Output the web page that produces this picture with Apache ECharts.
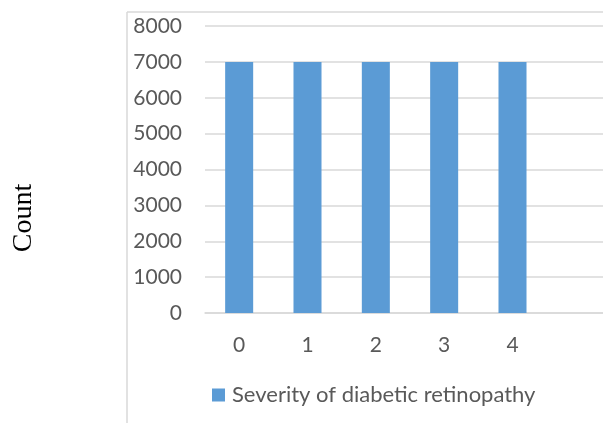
<!DOCTYPE html>
<html>
<head>
<meta charset="utf-8">
<script src="https://cdn.jsdelivr.net/npm/echarts@6/dist/echarts.min.js"></script>
<style>html,body{margin:0;padding:0;background:#fff;overflow:hidden}#c{width:615px;height:423px}</style>
</head>
<body>
<div id="c"></div>
<script>
var categories = ['0', '1', '2', '3', '4', ''];
var counts = [7000, 7000, 7000, 7000, 7000, null];
var seriesName = 'Severity of diabetic retinopathy';
var yTitle = 'Count';

var chart = echarts.init(document.getElementById('c'));
chart.setOption({
  animation: false,
  backgroundColor: '#fff',
  textStyle: { fontFamily: 'Lato' },
  graphic: [
    { type: 'line', shape: { x1: 127, y1: 12, x2: 127, y2: 423 }, style: { stroke: '#d9d9d9', lineWidth: 1.5 } },
    { type: 'line', shape: { x1: 127, y1: 12, x2: 615, y2: 12 }, style: { stroke: '#d9d9d9', lineWidth: 1.5 } },
    { type: 'text', x: 24, y: 218, rotation: Math.PI / 2, style: { text: yTitle, font: '28px "Liberation Serif"', fill: '#000', textAlign: 'center', textVerticalAlign: 'middle' } }
  ],
  grid: { left: 205, top: 26, width: 410, bottom: 110 },
  legend: {
    left: 212, top: 384, padding: 0, itemWidth: 13, itemHeight: 13, itemGap: 8,
    icon: 'rect',
    textStyle: { color: '#595959', fontSize: 22, fontFamily: 'Lato', padding: [0, 0, 0, 2] },
    data: [seriesName]
  },
  xAxis: {
    type: 'category', data: categories,
    axisLine: { lineStyle: { color: '#d9d9d9', width: 1.5 } },
    axisTick: { show: false },
    axisLabel: { color: '#595959', fontSize: 21, margin: 22 }
  },
  yAxis: {
    type: 'value', min: 0, max: 8000, interval: 1000,
    axisLine: { show: false }, axisTick: { show: false },
    splitLine: { lineStyle: { color: '#d9d9d9', width: 1.5 } },
    axisLabel: { color: '#595959', fontSize: 21, margin: 23, formatter: function (v) { return String(v); } }
  },
  series: [{
    name: seriesName, type: 'bar', data: counts, barWidth: '41%',
    itemStyle: { color: '#5b9bd5' }
  }]
});
</script>
</body>
</html>
